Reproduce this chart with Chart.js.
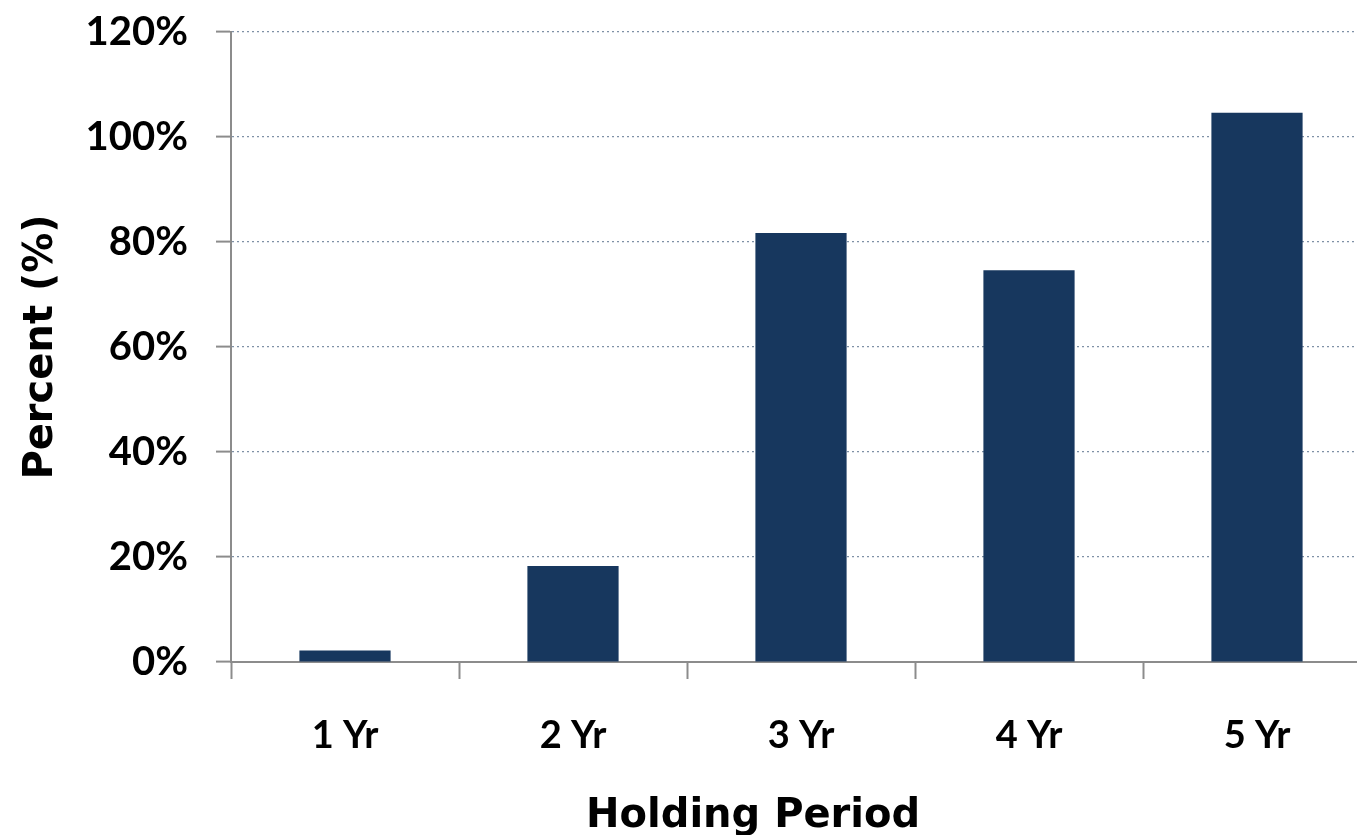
<!DOCTYPE html>
<html>
<head>
<meta charset="utf-8">
<script src="https://cdn.jsdelivr.net/npm/chart.js@4"></script>
<style>
  html, body { margin: 0; padding: 0; overflow: hidden; background: #fff; }
  #wrap { width: 1380px; height: 835px; position: relative; }
</style>
</head>
<body>
<div id="wrap"><canvas id="c"></canvas></div>
<script>
const categories = ['1 Yr', '2 Yr', '3 Yr', '4 Yr', '5 Yr'];
const percentValues = [2.2, 18.3, 81.7, 74.6, 104.6];
const yTickValues = [0, 20, 40, 60, 80, 100, 120];
const xAxisTitle = 'Holding Period';
const yAxisTitle = 'Percent (%)';

const axisGray = '#8c8c8c';
const gridBlue = '#7f91a6';

const xTitlePlugin = {
  id: 'xTitle',
  afterDraw(chart) {
    const ctx = chart.ctx;
    const area = chart.chartArea;
    ctx.save();
    ctx.font = 'bold 40px "DejaVu Sans", sans-serif';
    ctx.fillStyle = '#000';
    ctx.textAlign = 'center';
    ctx.textBaseline = 'alphabetic';
    ctx.fillText(xAxisTitle, area.left + (area.right - area.left) * 0.458, chart.height - 8);
    ctx.restore();
  }
};

new Chart(document.getElementById('c'), {
  type: 'bar',
  data: {
    labels: categories,
    datasets: [{
      data: percentValues,
      backgroundColor: '#17375E',
      borderWidth: 0,
      barPercentage: 0.4,
      categoryPercentage: 1.0
    }]
  },
  options: {
    responsive: true,
    maintainAspectRatio: false,
    animation: false,
    layout: { padding: { top: 32, right: 9, left: 0, bottom: 0 } },
    plugins: {
      legend: { display: false },
      tooltip: { enabled: false }
    },
    scales: {
      x: {
        offset: true,
        grid: {
          offset: true,
          drawOnChartArea: false,
          drawTicks: true,
          tickLength: 17,
          tickColor: axisGray,
          tickWidth: 2
        },
        border: { display: true, color: axisGray, width: 2 },
        ticks: {
          color: '#000',
          padding: 34,
          font: { family: 'Lato', weight: 'bold', size: 38 }
        },
        afterFit(scale) {
          scale.height = 835 - 662;
          scale.paddingLeft = 0;
          scale.paddingRight = 0;
        }
      },
      y: {
        min: 0,
        max: 120,
        afterBuildTicks(scale) { scale.ticks = yTickValues.map(v => ({ value: v })); },
        grid: {
          color: (ctx) => (ctx.tick && ctx.tick.value === 0) ? 'rgba(0,0,0,0)' : gridBlue,
          lineWidth: 1.2,
          drawTicks: true,
          tickLength: 15,
          tickColor: axisGray,
          tickWidth: 2,
          tickBorderDash: []
        },
        border: { display: true, color: axisGray, width: 2, dash: [2, 3] },
        ticks: {
          color: '#000',
          padding: 28,
          font: { family: 'Lato', weight: 'bold', size: 40 },
          callback: (v) => v + '%'
        },
        title: {
          display: true,
          text: yAxisTitle,
          color: '#000',
          padding: { top: 18, bottom: 0 },
          font: { family: '"DejaVu Sans", sans-serif', weight: 'bold', size: 40 }
        },
        afterFit(scale) {
          scale.width = 231;
          scale.paddingTop = 0;
          scale.paddingBottom = 0;
        }
      }
    }
  },
  plugins: [xTitlePlugin]
});
</script>
</body>
</html>
